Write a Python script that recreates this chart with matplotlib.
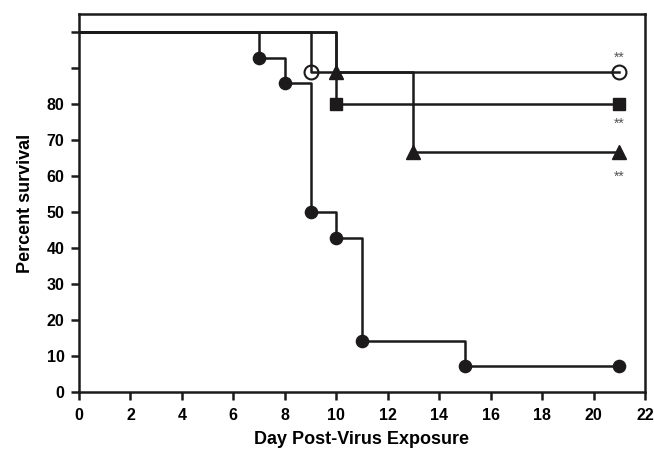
import matplotlib
matplotlib.use("Agg")
import matplotlib.pyplot as plt

# Data (Kaplan-Meier style step curves)
days_ctrl = [0, 7, 8, 9, 10, 11, 15, 21]
surv_ctrl = [100, 92.86, 85.71, 50.0, 42.86, 14.29, 7.14, 7.14]

days_open = [0, 9, 21]
surv_open = [100, 88.89, 88.89]

days_tri = [0, 10, 13, 21]
surv_tri = [100, 88.89, 66.67, 66.67]

days_sq = [0, 10, 21]
surv_sq = [100, 80.0, 80.0]

star_labels = ["**", "**", "**"]
star_y = [91.8, 73.3, 58.6]

xticks = list(range(0, 23, 2))
yticks = list(range(0, 101, 10))
ytick_labels = [str(v) if v <= 80 else "" for v in yticks]

plt.rcParams['font.family'] = ['Liberation Sans', 'DejaVu Sans']
plt.rcParams['font.weight'] = 'bold'

col = '#1c1a1b'
lw = 1.8
fig = plt.figure(figsize=(6.54, 4.51), dpi=100)
ax = fig.add_axes([0.1208, 0.1308, 0.8654, 0.8382])

def curve(days, surv, marker, face, ms, mew=1.0):
    ax.step(days, surv, where='post', color=col, lw=lw, zorder=2)
    ax.plot(days[1:], surv[1:], linestyle='none', marker=marker, ms=ms,
            mfc=face, mec=col, mew=mew, zorder=3)

curve(days_ctrl, surv_ctrl, 'o', col, 8.8)
curve(days_sq, surv_sq, 's', col, 8.6)
curve(days_tri, surv_tri, '^', col, 9.5)
curve(days_open, surv_open, 'o', 'none', 10, 1.5)

for lab, yv in zip(star_labels, star_y):
    ax.text(21, yv, lab, ha='center', va='baseline', fontsize=10,
            fontweight='normal', color='#555555')

ax.set_xlim(0, 22)
ax.set_ylim(0, 105)
ax.set_xticks(xticks)
ax.set_yticks(yticks)
ax.set_yticklabels(ytick_labels)
ax.tick_params(axis='both', direction='out', length=5.5, width=1.8, labelsize=11.5, color=col)
ax.tick_params(axis='x', pad=6)
ax.tick_params(axis='y', pad=5)
for s in ax.spines.values():
    s.set_linewidth(1.8)
    s.set_color(col)
ax.set_xlabel('Day Post-Virus Exposure', fontsize=13, fontweight='bold', labelpad=6)
ax.set_ylabel('Percent survival', fontsize=13, fontweight='bold', labelpad=9)
for t in ax.get_xticklabels() + ax.get_yticklabels():
    t.set_fontweight('bold')

fig.savefig('out.png', dpi=100)
